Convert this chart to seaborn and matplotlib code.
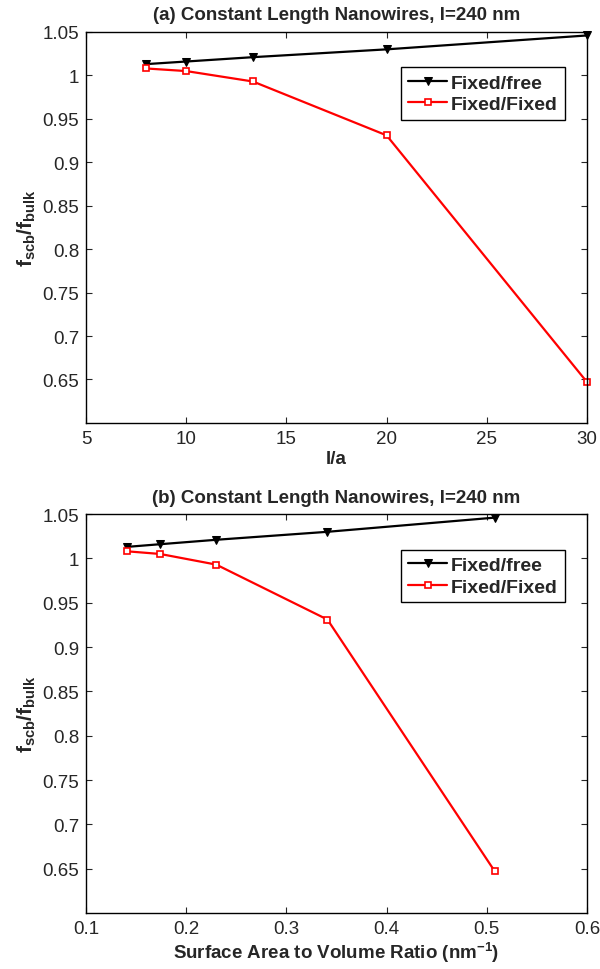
import numpy as np
import pandas as pd
import matplotlib
matplotlib.use('Agg')
import matplotlib.pyplot as plt
import seaborn as sns

# data
l_over_a = [8, 10, 13.33, 20, 30]
sa_to_v = [0.141, 0.174, 0.230, 0.341, 0.508]
fixed_free = [1.013, 1.016, 1.021, 1.030, 1.046]
fixed_fixed = [1.008, 1.005, 0.993, 0.931, 0.647]
yticks = [0.65, 0.7, 0.75, 0.8, 0.85, 0.9, 0.95, 1.0, 1.05]
ytick_labels = ['0.65', '0.7', '0.75', '0.8', '0.85', '0.9', '0.95', '1', '1.05']

sns.set_style('white')
plt.rcParams['font.family'] = ['Liberation Sans', 'DejaVu Sans']
plt.rcParams['mathtext.fontset'] = 'custom'
plt.rcParams['mathtext.bf'] = 'Liberation Sans:bold'
plt.rcParams['mathtext.rm'] = 'Liberation Sans'
plt.rcParams['mathtext.it'] = 'Liberation Sans:italic'

fig = plt.figure(figsize=(6, 9.7), dpi=100)
ax1 = fig.add_axes([0.1433, 0.563, 0.835, 0.403])
ax2 = fig.add_axes([0.1433, 0.0577, 0.835, 0.4113])


def draw(ax, x, xlim, xticks, xtick_labels, xlabel, title):
    sns.lineplot(x=x, y=fixed_free, ax=ax, color='black', marker='v', markersize=6,
                 markerfacecolor='black', markeredgecolor='black', linewidth=1.6,
                 label='Fixed/free', clip_on=False)
    sns.lineplot(x=x, y=fixed_fixed, ax=ax, color='red', marker='s', markersize=5,
                 markerfacecolor='white', markeredgecolor='red', markeredgewidth=1.2,
                 linewidth=1.6, label='Fixed/Fixed', clip_on=False)
    ax.set_xlim(*xlim)
    ax.set_ylim(0.6, 1.05)
    ax.set_xticks(xticks)
    ax.set_xticklabels(xtick_labels, fontsize=13.5)
    ax.set_yticks(yticks)
    ax.set_yticklabels(ytick_labels, fontsize=13.5)
    ax.tick_params(direction='in', length=4, width=0.8, top=True, right=True,
                   bottom=True, left=True, pad=5)
    for s in ax.spines.values():
        s.set_linewidth(1.0)
        s.set_color('black')
    ax.set_xlabel(xlabel, fontsize=13.5, fontweight='bold', labelpad=2)
    ax.set_ylabel(r'$\mathbf{f_{scb}/f_{bulk}}$', fontsize=15, labelpad=3)
    ax.set_title(title, fontsize=13.5, fontweight='bold', pad=9)
    leg = ax.legend(loc='upper right', bbox_to_anchor=(0.975, 0.935), fancybox=False,
                    edgecolor='black', framealpha=1, prop={'weight': 'bold', 'size': 14},
                    handlelength=2.0, handletextpad=0.2, borderpad=0.35, labelspacing=0.2)
    leg.get_frame().set_linewidth(1.0)


draw(ax1, l_over_a, (5, 30), [5, 10, 15, 20, 25, 30],
     ['5', '10', '15', '20', '25', '30'], 'l/a',
     '(a) Constant Length Nanowires, l=240 nm')
draw(ax2, sa_to_v, (0.1, 0.6), [0.1, 0.2, 0.3, 0.4, 0.5, 0.6],
     ['0.1', '0.2', '0.3', '0.4', '0.5', '0.6'],
     r'Surface Area to Volume Ratio (nm$^{\mathbf{-1}}$)',
     '(b) Constant Length Nanowires, l=240 nm')

fig.savefig('out.png', dpi=100)
